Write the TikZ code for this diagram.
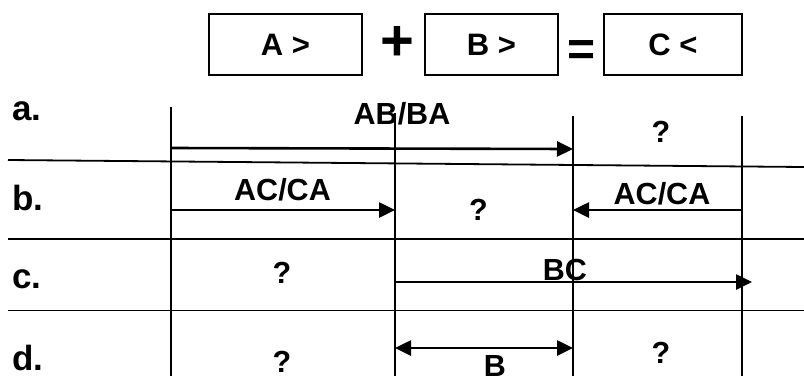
\documentclass[tikz,border=0pt]{standalone}
\usepackage{fontspec}
\setmainfont{Liberation Sans}
\usetikzlibrary{arrows.meta}
\begin{document}
\begin{tikzpicture}[x=1pt,y=-1pt,
  grid/.style={line width=1.8pt},
  boxst/.style={draw,line width=1.6pt,inner sep=0pt},
  arr/.style={line width=2.6pt,-{Triangle[length=16pt,width=15pt]}},
  darr/.style={line width=2.6pt,{Triangle[length=16pt,width=15pt]}-{Triangle[length=16pt,width=15pt]}},
  boxtxt/.style={font=\bfseries\fontsize{31}{31}\selectfont,anchor=base,inner sep=0pt},
  lbl/.style={font=\bfseries\fontsize{30.5}{31}\selectfont,anchor=base,inner sep=0pt},
  rowlbl/.style={font=\bfseries\fontsize{35}{35}\selectfont,anchor=base west,inner sep=0pt}]
\useasboundingbox (0,0) rectangle (804,376);
% boxes
\draw[boxst] (209,14) rectangle (362,75);
\draw[boxst] (425,14) rectangle (558,75);
\draw[boxst] (604,14) rectangle (742,75);
\node[boxtxt] (ta) at (285.5,55) {A >};
\node[boxtxt] (tb) at (491.5,55) {B >};
\node[boxtxt] (tc) at (673,55) {C <};
\node[font=\bfseries\fontsize{58}{58}\selectfont,inner sep=0pt] (plus) at (397,43) {+};
\node[font=\bfseries\fontsize{48}{48}\selectfont,inner sep=0pt] (eq) at (582,53.5) {=};
% coordinates
\coordinate (v1t) at (171,107); \coordinate (v1b) at (171,376);
\coordinate (v2t) at (395,113); \coordinate (v2b) at (395,376);
\coordinate (v3t) at (573,116); \coordinate (v3b) at (573,376);
\coordinate (v4t) at (742,116); \coordinate (v4b) at (742,376);
\coordinate (h1l) at (8,160); \coordinate (h1r) at (804,167);
\coordinate (h2l) at (8,239); \coordinate (h2r) at (804,239);
\coordinate (h3l) at (8,310.5); \coordinate (h3r) at (804,310.5);
% grid
\draw[grid] (v1t) -- (v1b);
\draw[grid] (v2t) -- (v2b);
\draw[grid] (v3t) -- (v3b);
\draw[grid] (v4t) -- (v4b);
\draw[grid] (h1l) -- (h1r);
\draw[grid] (h2l) -- (h2r);
\draw[grid] (h3l) -- (h3r);
% arrow endpoints
\coordinate (a1) at (171,148); \coordinate (a2) at (573,149);
\coordinate (b1) at (171,210); \coordinate (b2) at (395,210);
\coordinate (b3) at (742,210); \coordinate (b4) at (573,210);
\coordinate (c1) at (395,282); \coordinate (c2) at (752,282);
\coordinate (d1) at (395,348); \coordinate (d2) at (573,348);
\draw[arr] (a1) -- (a2);
\draw[arr] (b1) -- (b2);
\draw[arr] (b3) -- (b4);
\draw[arr] (c1) -- (c2);
\draw[darr] (d1) -- (d2);
% row labels
\node[rowlbl] (ra) at (12,120) {a.};
\node[rowlbl] (rb) at (12,210) {b.};
\node[rowlbl] (rc) at (12,288) {c.};
\node[rowlbl] (rd) at (12,370) {d.};
% texts
\node[lbl] (tab) at (402,124) {AB/BA};
\node[lbl] (qa) at (661,142) {?};
\node[lbl] (tac1) at (282.5,200) {AC/CA};
\node[lbl] (qb) at (478.5,220) {?};
\node[lbl] (tac2) at (662,204) {AC/CA};
\node[lbl] (qc) at (282,283) {?};
\node[lbl] (tbc) at (565,280) {BC};
\node[lbl] (qd1) at (282,372) {?};
\node[lbl] (tbd) at (495,376) {B};
\node[lbl] (qd2) at (661,363) {?};
\end{tikzpicture}
\end{document}
